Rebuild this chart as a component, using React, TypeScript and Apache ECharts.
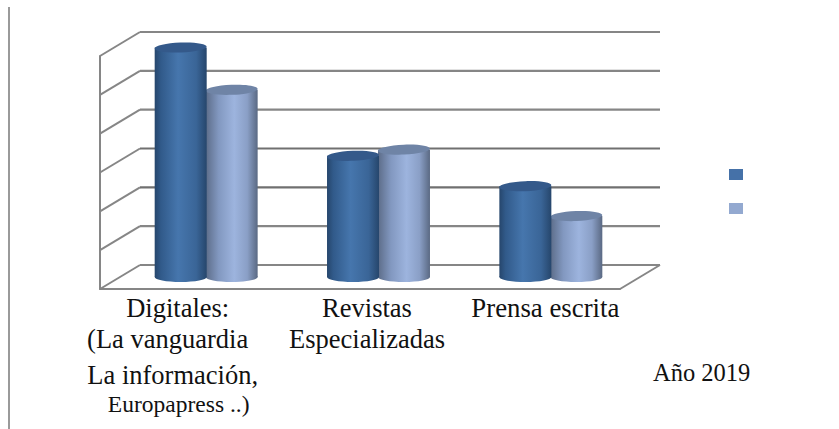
import React, { useEffect, useRef } from "react";
import * as echarts from "echarts";

const categories = ["Digitales", "Revistas", "Prensa"];
const labelRich = [
  "{a|Digitales:}\n{b|(La vanguardia}\n{c|La información,}\n{d|Europapress ..)}",
  "{e|Revistas}\n{f|Especializadas}",
  "{g|Prensa escrita}",
];
const series1 = [5.91, 3.12, 2.34];
const series2 = [4.82, 3.28, 1.57];
const ticks = [0, 1, 2, 3, 4, 5, 6];
const seriesNames = ["Serie 1", "Serie 2"];
const yearNote = "Año 2019";

const serif = "'Liberation Serif', 'Times New Roman', serif";
const grad = (stops: [number, string][]) =>
  new echarts.graphic.LinearGradient(0, 0, 1, 0, stops.map(([offset, color]) => ({ offset, color })));

const DEPTH_X = 40;
const DEPTH_Y = 24;

function wallItem(params: any, api: any) {
  const v = api.value(1);
  const cs = params.coordSys;
  const y = api.coord([0, v])[1];
  const L = cs.x;
  const R = cs.x + cs.width;
  const style = { stroke: v === 3 || v === 2 ? "#707070" : "#868686", lineWidth: 2.2, fill: "none" };
  const children: any[] = [
    { type: "line", shape: { x1: L, y1: y, x2: L + DEPTH_X, y2: y - DEPTH_Y }, style: { ...style, stroke: "#868686", lineWidth: 2 } },
    { type: "line", shape: { x1: L + DEPTH_X, y1: y - DEPTH_Y, x2: R + DEPTH_X, y2: y - DEPTH_Y }, style },
  ];
  if (v === 0) {
    children.push({ type: "line", shape: { x1: R, y1: y, x2: R + DEPTH_X, y2: y - DEPTH_Y }, style: { ...style, lineWidth: 2 } });
  }
  return { type: "group", children };
}

function cylinder(side: number, body: any, top: string) {
  return (_params: any, api: any) => {
    const i = api.value(0);
    const p0 = api.coord([i, 0]);
    const p1 = api.coord([i, api.value(1)]);
    const band = api.size([1, 0])[0];
    const w = band * 0.3;
    const cx = p0[0] + 19.5 - i * 1 + side * w * 0.49;
    const base = p0[1] - 12;
    const ty = p1[1] - 12;
    const rx = w / 2;
    const ry = 5;
    return {
      type: "group",
      children: [
        { type: "ellipse", shape: { cx, cy: base, rx, ry }, style: { fill: body } },
        { type: "rect", shape: { x: cx - rx, y: ty, width: w, height: base - ty }, style: { fill: body } },
        { type: "ellipse", x: cx, y: ty, rotation: 0.04, shape: { cx: 0, cy: 0, rx, ry }, style: { fill: top } },
      ],
    };
  };
}

export default function App() {
  const ref = useRef<HTMLDivElement>(null);
  useEffect(() => {
    const chart = echarts.init(ref.current!, undefined, { renderer: "svg" });
    const blue = grad([[0, "#26466c"], [0.12, "#315a8a"], [0.45, "#4676ad"], [0.8, "#3a6597"], [1, "#26466c"]]);
    const light = grad([[0, "#5c6c88"], [0.25, "#8298c0"], [0.55, "#9db4de"], [0.8, "#8a9fc6"], [1, "#5a6983"]]);
    const base = { fontFamily: serif, color: "#111", align: "center" as const };
    chart.setOption({
      animation: false,
      backgroundColor: "#fff",
      grid: { left: 100, right: 219, top: 56, bottom: 140 },
      legend: {
        left: 724,
        top: 164,
        orient: "vertical",
        itemWidth: 14,
        itemHeight: 11,
        itemGap: 23,
        icon: "rect",
        formatter: () => "",
        data: seriesNames,
      },
      xAxis: {
        type: "category",
        data: categories,
        axisTick: { show: false },
        axisLine: { lineStyle: { color: "#868686", width: 2 } },
        axisLabel: {
          interval: 0,
          margin: 3.5,
          formatter: (_v: string, i: number) => labelRich[i],
          rich: {
            a: { ...base, fontSize: 26.5, lineHeight: 31, padding: [0, 18, 0, 0] },
            b: { ...base, fontSize: 26.5, lineHeight: 31, padding: [0, 38, 0, 0] },
            c: { ...base, fontSize: 26.5, lineHeight: 41, padding: [0, 28, 0, 0] },
            d: { ...base, fontSize: 23.5, lineHeight: 17, padding: [0, 16, 0, 0] },
            e: { ...base, fontSize: 26.5, lineHeight: 31, padding: [0, 0, 0, 14] },
            f: { ...base, fontSize: 26.5, lineHeight: 31, padding: [0, 0, 0, 14] },
            g: { ...base, fontSize: 26.8, lineHeight: 31, padding: [0, 0, 0, 24] },
          },
        },
      },
      yAxis: {
        type: "value",
        min: 0,
        max: 6,
        interval: 1,
        axisLine: { show: true, lineStyle: { color: "#868686", width: 2 } },
        axisTick: { show: false },
        axisLabel: { show: false },
        splitLine: { show: false },
      },
      graphic: [
        { type: "line", shape: { x1: 9, y1: 7, x2: 9, y2: 429 }, style: { stroke: "#9a9a9a", lineWidth: 2 } },
        {
          type: "text",
          x: 653,
          y: 360,
          style: { text: yearNote, fontFamily: serif, fontSize: 24.5, fill: "#111" },
        },
      ],
      series: [
        {
          type: "custom",
          name: "Muros",
          renderItem: wallItem,
          data: ticks.map((t) => [0, t]),
          encode: { x: 0, y: 1 },
          silent: true,
          z: 1,
          clip: false,
        },
        {
          type: "custom",
          name: seriesNames[0],
          renderItem: cylinder(-1, blue, "#34598a"),
          data: series1.map((v, i) => [i, v]),
          encode: { x: 0, y: 1 },
          itemStyle: { color: "#4571a8" },
          z: 3,
          clip: false,
        },
        {
          type: "custom",
          name: seriesNames[1],
          renderItem: cylinder(1, light, "#6f84a6"),
          data: series2.map((v, i) => [i, v]),
          encode: { x: 0, y: 1 },
          itemStyle: { color: "#93a9d0" },
          z: 2,
          clip: false,
        },
      ],
    });
    return () => chart.dispose();
  }, []);
  return <div ref={ref} style={{ position: "absolute", left: 0, top: 0, width: 839, height: 429 }} />;
}
